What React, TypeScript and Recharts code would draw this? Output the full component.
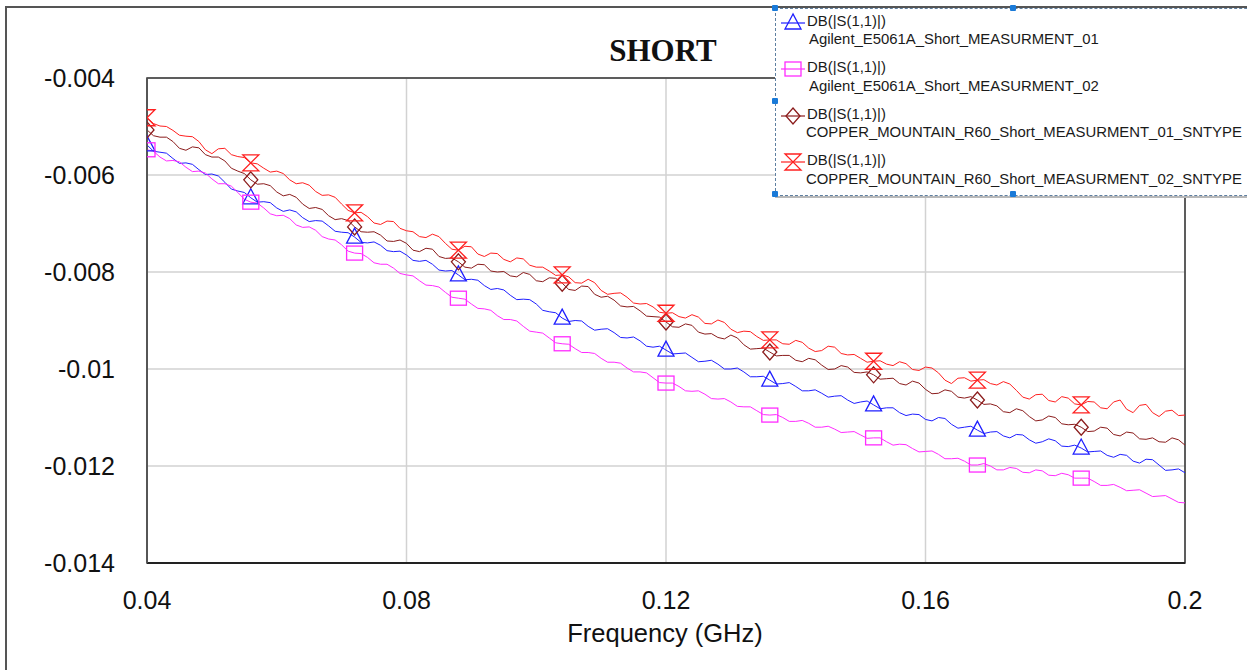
import { LineChart, Line, XAxis, YAxis, CartesianGrid, ReferenceArea } from 'recharts'

// sweep: 0.04 .. 0.2 GHz, 161 points
const FREQ_START = 0.04
const FREQ_STEP = 0.001
const MARKER_EVERY = 16

const xTicks = [0.04, 0.08, 0.12, 0.16, 0.2]
const yTicks = [-0.014, -0.012, -0.01, -0.008, -0.006, -0.004]

// DB(|S(1,1)|)
const agilent01 = [
  -0.00538, -0.00551, -0.00553, -0.00555, -0.00566, -0.00576, -0.00575, -0.00578, -0.00589, -0.00599, -0.00598, -0.00602, -0.00615, -0.00629, -0.00633, -0.00636, -0.00647,
  -0.00656, -0.00655, -0.00657, -0.00668, -0.00675, -0.00672, -0.00676, -0.00688, -0.00696, -0.00694, -0.00695, -0.00705, -0.00716, -0.00718, -0.00719, -0.00728,
  -0.00739, -0.0074, -0.00738, -0.00745, -0.00756, -0.00758, -0.00757, -0.00765, -0.00776, -0.00778, -0.00776, -0.00784, -0.00796, -0.00798, -0.00797, -0.00806,
  -0.00816, -0.00815, -0.00817, -0.00828, -0.00836, -0.00834, -0.00837, -0.00848, -0.00857, -0.00856, -0.00857, -0.00866, -0.00879, -0.00882, -0.00884, -0.00895,
  -0.00902, -0.009, -0.00901, -0.00912, -0.0092, -0.00918, -0.00917, -0.00925, -0.00935, -0.00936, -0.00934, -0.00942, -0.00953, -0.00955, -0.00953, -0.00961,
  -0.00969, -0.00968, -0.00967, -0.00976, -0.00985, -0.00984, -0.00982, -0.0099, -0.01, -0.01, -0.00998, -0.01006, -0.01016, -0.01016, -0.01015, -0.01023,
  -0.01031, -0.0103, -0.01028, -0.01036, -0.01045, -0.01045, -0.01043, -0.0105, -0.01058, -0.01056, -0.01055, -0.01064, -0.01071, -0.01068, -0.01066, -0.01074,
  -0.01082, -0.0108, -0.0108, -0.0109, -0.01096, -0.01093, -0.01094, -0.01104, -0.01107, -0.011, -0.01102, -0.01114, -0.01122, -0.0112, -0.01118, -0.01126,
  -0.01133, -0.0113, -0.01129, -0.01138, -0.01142, -0.01135, -0.01136, -0.01146, -0.01153, -0.0115, -0.01144, -0.01148, -0.01159, -0.0116, -0.01157, -0.01163,
  -0.01171, -0.0117, -0.01169, -0.01178, -0.01182, -0.01176, -0.01178, -0.0119, -0.01194, -0.01186, -0.01187, -0.01198, -0.01209, -0.01208, -0.01206, -0.01214,
]

const agilent02 = [
  -0.00548, -0.00551, -0.00563, -0.00571, -0.0057, -0.00573, -0.00584, -0.00593, -0.00592, -0.00596, -0.00608, -0.00618, -0.00618, -0.00623, -0.00636, -0.0065, -0.00656,
  -0.00658, -0.00668, -0.0068, -0.00684, -0.00683, -0.0069, -0.00703, -0.00708, -0.00707, -0.00714, -0.00727, -0.00732, -0.00734, -0.00744, -0.00757, -0.00761,
  -0.00762, -0.0077, -0.00781, -0.00784, -0.00784, -0.00792, -0.00803, -0.00806, -0.00808, -0.00818, -0.00827, -0.00828, -0.00831, -0.00842, -0.00852, -0.00854,
  -0.00856, -0.00866, -0.00875, -0.00876, -0.00879, -0.0089, -0.00898, -0.00898, -0.00901, -0.00912, -0.00922, -0.00924, -0.00926, -0.00936, -0.00946, -0.00948,
  -0.00949, -0.00958, -0.00966, -0.00966, -0.00968, -0.00978, -0.00986, -0.00986, -0.00988, -0.00998, -0.01006, -0.01006, -0.01008, -0.01018, -0.01028, -0.01029,
  -0.01029, -0.01036, -0.01045, -0.01046, -0.01045, -0.01052, -0.01061, -0.01062, -0.01061, -0.01068, -0.01077, -0.01078, -0.01078, -0.01086, -0.01094, -0.01095,
  -0.01094, -0.011, -0.01108, -0.01108, -0.01106, -0.01112, -0.0112, -0.0112, -0.01118, -0.01124, -0.01131, -0.0113, -0.01129, -0.01136, -0.01143, -0.01142,
  -0.01142, -0.0115, -0.01157, -0.01155, -0.01156, -0.01164, -0.01171, -0.0117, -0.01169, -0.01176, -0.01185, -0.01185, -0.01184, -0.0119, -0.01198, -0.01198,
  -0.01195, -0.012, -0.01208, -0.01208, -0.01203, -0.01205, -0.01213, -0.01214, -0.01208, -0.0121, -0.01219, -0.0122, -0.01215, -0.01218, -0.01225, -0.01225,
  -0.01225, -0.01232, -0.0124, -0.0124, -0.01238, -0.01244, -0.01251, -0.0125, -0.01249, -0.01256, -0.01263, -0.01262, -0.01261, -0.01268, -0.01275, -0.01276,
]

const copper01 = [
  -0.00507, -0.00519, -0.00522, -0.00522, -0.00531, -0.00545, -0.00549, -0.00542, -0.00544, -0.00558, -0.00563, -0.00563, -0.00571, -0.00586, -0.00592, -0.00597, -0.0061,
  -0.00619, -0.00618, -0.00622, -0.00635, -0.00643, -0.0064, -0.00646, -0.0066, -0.00669, -0.00667, -0.00671, -0.00684, -0.00692, -0.0069, -0.00694, -0.00707,
  -0.00717, -0.00718, -0.00717, -0.00724, -0.00736, -0.00737, -0.00734, -0.00741, -0.00755, -0.00758, -0.00751, -0.00753, -0.00768, -0.00772, -0.00771, -0.00779,
  -0.0079, -0.00792, -0.00784, -0.00785, -0.00798, -0.008, -0.00799, -0.00808, -0.0081, -0.00801, -0.00805, -0.00818, -0.0082, -0.00812, -0.00813, -0.00823,
  -0.00836, -0.00838, -0.00829, -0.0083, -0.00846, -0.00852, -0.0085, -0.00858, -0.0087, -0.00872, -0.00871, -0.0088, -0.00891, -0.00892, -0.00893, -0.00903,
  -0.00913, -0.00914, -0.00907, -0.0091, -0.00924, -0.00928, -0.00927, -0.00935, -0.00938, -0.0093, -0.00936, -0.0095, -0.00959, -0.00958, -0.00957, -0.00965,
  -0.00973, -0.00972, -0.00972, -0.00982, -0.00985, -0.00978, -0.00981, -0.00992, -0.01001, -0.01, -0.00993, -0.00996, -0.01007, -0.01008, -0.01006, -0.01012,
  -0.01021, -0.0102, -0.01019, -0.0103, -0.01033, -0.01025, -0.01029, -0.01042, -0.01051, -0.0105, -0.01043, -0.01046, -0.01058, -0.0106, -0.01057, -0.01064,
  -0.01073, -0.01072, -0.01076, -0.01088, -0.0109, -0.01082, -0.01086, -0.01098, -0.01107, -0.01105, -0.01097, -0.011, -0.01113, -0.01115, -0.01114, -0.0112,
  -0.01129, -0.01128, -0.0112, -0.01122, -0.01135, -0.01138, -0.0113, -0.01132, -0.01144, -0.01145, -0.01142, -0.0115, -0.01151, -0.01142, -0.01146, -0.01157,
]

const copper02 = [
  -0.00482, -0.00494, -0.00499, -0.005, -0.00508, -0.00518, -0.0052, -0.00521, -0.00531, -0.00548, -0.00556, -0.00546, -0.00545, -0.00558, -0.00562, -0.00564, -0.00575,
  -0.00577, -0.00586, -0.00594, -0.00592, -0.00597, -0.0061, -0.00618, -0.00616, -0.00621, -0.00634, -0.00642, -0.00641, -0.00646, -0.0066, -0.00673, -0.00678,
  -0.00677, -0.00686, -0.00699, -0.00702, -0.00695, -0.00696, -0.0071, -0.00715, -0.00717, -0.00727, -0.00729, -0.00722, -0.00727, -0.00741, -0.00753, -0.00755,
  -0.00747, -0.00748, -0.00763, -0.00768, -0.00761, -0.00762, -0.00774, -0.00779, -0.00771, -0.00773, -0.00786, -0.0079, -0.0079, -0.00798, -0.00807, -0.00806,
  -0.0081, -0.00822, -0.00823, -0.00815, -0.00822, -0.00838, -0.00846, -0.00844, -0.00843, -0.00852, -0.00864, -0.00866, -0.00865, -0.00872, -0.00883, -0.00885,
  -0.00884, -0.00892, -0.00895, -0.00888, -0.00893, -0.00906, -0.00907, -0.00899, -0.00904, -0.00918, -0.00925, -0.00922, -0.00923, -0.00933, -0.00941, -0.0094,
  -0.0094, -0.00948, -0.00949, -0.00941, -0.00945, -0.00957, -0.00964, -0.00962, -0.00953, -0.00955, -0.00968, -0.00971, -0.0097, -0.00978, -0.00986, -0.00984,
  -0.00983, -0.0099, -0.00993, -0.00985, -0.00989, -0.01001, -0.01003, -0.00996, -0.00998, -0.01008, -0.01023, -0.0103, -0.01019, -0.01018, -0.01025, -0.01023,
  -0.01022, -0.0103, -0.01033, -0.01026, -0.01031, -0.01044, -0.01058, -0.01062, -0.01053, -0.01052, -0.01065, -0.01068, -0.01057, -0.0106, -0.01072, -0.01074,
  -0.01067, -0.01068, -0.0108, -0.01082, -0.01068, -0.01064, -0.01083, -0.0109, -0.01075, -0.01073, -0.0109, -0.01098, -0.01087, -0.01085, -0.01096, -0.01095,
]

const freq = agilent01.map((_, i) => +(FREQ_START + i * FREQ_STEP).toFixed(3))

const data = freq.map((f, i) => ({
  f,
  a1: agilent01[i],
  a2: agilent02[i],
  c1: copper01[i],
  c2: copper02[i],
}))

const series = [
  { key: 'a1', color: '#1f1fff', shape: 'triangle', name: 'Agilent_E5061A_Short_MEASURMENT_01' },
  { key: 'a2', color: '#ff2bff', shape: 'square', name: 'Agilent_E5061A_Short_MEASURMENT_02' },
  { key: 'c1', color: '#8b1c1c', shape: 'diamond', name: 'COPPER_MOUNTAIN_R60_Short_MEASURMENT_01_SNTYPE' },
  { key: 'c2', color: '#ff2020', shape: 'hourglass', name: 'COPPER_MOUNTAIN_R60_Short_MEASURMENT_02_SNTYPE' },
]

const FONT = '"Liberation Sans", Arial, sans-serif'

const Marker = ({ shape, color, cx, cy }: { shape: string; color: string; cx: number; cy: number }) => {
  const common = { fill: 'none', stroke: color, strokeWidth: 1.3 }
  if (shape === 'triangle')
    return <polygon points={`${cx},${cy - 9} ${cx - 8},${cy + 6} ${cx + 8},${cy + 6}`} {...common} />
  if (shape === 'square') return <rect x={cx - 8} y={cy - 7} width={16} height={14} {...common} />
  if (shape === 'diamond')
    return <polygon points={`${cx},${cy - 8} ${cx + 7},${cy} ${cx},${cy + 8} ${cx - 7},${cy}`} {...common} />
  return (
    <polygon
      points={`${cx - 8},${cy - 8} ${cx + 8},${cy - 8} ${cx - 8},${cy + 8} ${cx + 8},${cy + 8}`}
      {...common}
    />
  )
}

const makeDot = (shape: string, color: string) => (props: any) => {
  const { cx, cy, index } = props
  const last = freq.length - 1
  if (index % MARKER_EVERY !== 0 || index >= last) return <g key={`${shape}-${index}`} />
  return (
    <g key={`${shape}-${index}`}>
      <Marker shape={shape} color={color} cx={cx} cy={cy} />
    </g>
  )
}

const Handle = ({ x, y }: { x: number; y: number }) => (
  <div
    style={{
      position: 'absolute',
      left: x - 3,
      top: y - 3,
      width: 6,
      height: 6,
      background: '#1a7ad8',
      borderRadius: 1,
    }}
  />
)

const LegendBox = () => (
  <div
    style={{
      position: 'absolute',
      left: 775,
      top: 8,
      width: 560,
      height: 186,
      background: '#fff',
      border: '1px dashed #5f7fa0',
      boxShadow: '0 2px 0 #b8b8b8',
      fontFamily: FONT,
      fontSize: 14.9,
      color: '#1a1a1a',
    }}
  >
    {series.map((s, i) => (
      <div key={s.key} style={{ position: 'absolute', left: 0, top: 1.5 + i * 46.5 }}>
        <svg width={30} height={24} style={{ position: 'absolute', left: 4, top: 0 }}>
          <line x1={1} y1={12} x2={25} y2={12} stroke={s.color} strokeWidth={1.2} />
          <Marker shape={s.shape} color={s.color} cx={13} cy={12} />
        </svg>
        <div style={{ position: 'absolute', left: 31, top: 2, whiteSpace: 'nowrap' }}>DB(|S(1,1)|)</div>
        <div
          style={{
            position: 'absolute',
            left: s.key.startsWith('a') ? 33 : 30,
            top: 20.5,
            whiteSpace: 'nowrap',
          }}
        >
          {s.name}
        </div>
      </div>
    ))}
  </div>
)

const App = () => {
  return (
    <div
      style={{
        position: 'fixed',
        left: 0,
        top: 0,
        width: 1247,
        height: 670,
        overflow: 'hidden',
        background: '#fff',
      }}
    >
      <div
        style={{
          position: 'absolute',
          left: 5,
          top: 6,
          width: 1300,
          height: 700,
          border: '2px solid #555',
        }}
      />
      <LineChart
        width={1247}
        height={670}
        data={data}
        margin={{ top: 78, right: 62, bottom: 47, left: 7 }}
        style={{ position: 'absolute', left: 0, top: 0 }}
      >
        <CartesianGrid stroke="#d2d2d2" strokeWidth={1.5} />
        <XAxis
          dataKey="f"
          type="number"
          domain={[0.04, 0.2]}
          ticks={xTicks}
          height={60}
          tickLine={false}
          tickSize={6}
          tickMargin={22}
          axisLine={{ stroke: '#222', strokeWidth: 2 }}
          tick={{ fontSize: 25, fontFamily: FONT, fill: '#111' }}
          allowDataOverflow
        />
        <YAxis
          type="number"
          domain={[-0.014, -0.004]}
          ticks={yTicks}
          width={140}
          tickLine={false}
          tickSize={6}
          tickMargin={26}
          axisLine={{ stroke: '#555', strokeWidth: 1.5 }}
          tick={{ fontSize: 25, fontFamily: FONT, fill: '#111' }}
          allowDataOverflow
        />
        <ReferenceArea
          x1={0.04}
          x2={0.2}
          y1={-0.014}
          y2={-0.004}
          fill="none"
          stroke="#333"
          strokeWidth={1.5}
          ifOverflow="visible"
        />
        {series.map((s) => (
          <Line
            key={s.key}
            dataKey={s.key}
            stroke={s.color}
            strokeWidth={1}
            dot={makeDot(s.shape, s.color)}
            activeDot={false}
            isAnimationActive={false}
          />
        ))}
      </LineChart>
      <div
        style={{
          position: 'absolute',
          left: 563,
          width: 200,
          top: 33,
          textAlign: 'center',
          fontFamily: '"Liberation Serif", "Times New Roman", serif',
          fontWeight: 'bold',
          fontSize: 31,
          lineHeight: '36px',
          color: '#111',
        }}
      >
        SHORT
      </div>
      <div
        style={{
          position: 'absolute',
          left: 465,
          width: 400,
          top: 618,
          textAlign: 'center',
          fontFamily: FONT,
          fontSize: 25.5,
          lineHeight: '30px',
          color: '#111',
        }}
      >
        Frequency (GHz)
      </div>
      <LegendBox />
      <Handle x={775} y={8} />
      <Handle x={1013} y={8} />
      <Handle x={775} y={101} />
      <Handle x={775} y={194} />
      <Handle x={1013} y={194} />
    </div>
  )
}

export default App
